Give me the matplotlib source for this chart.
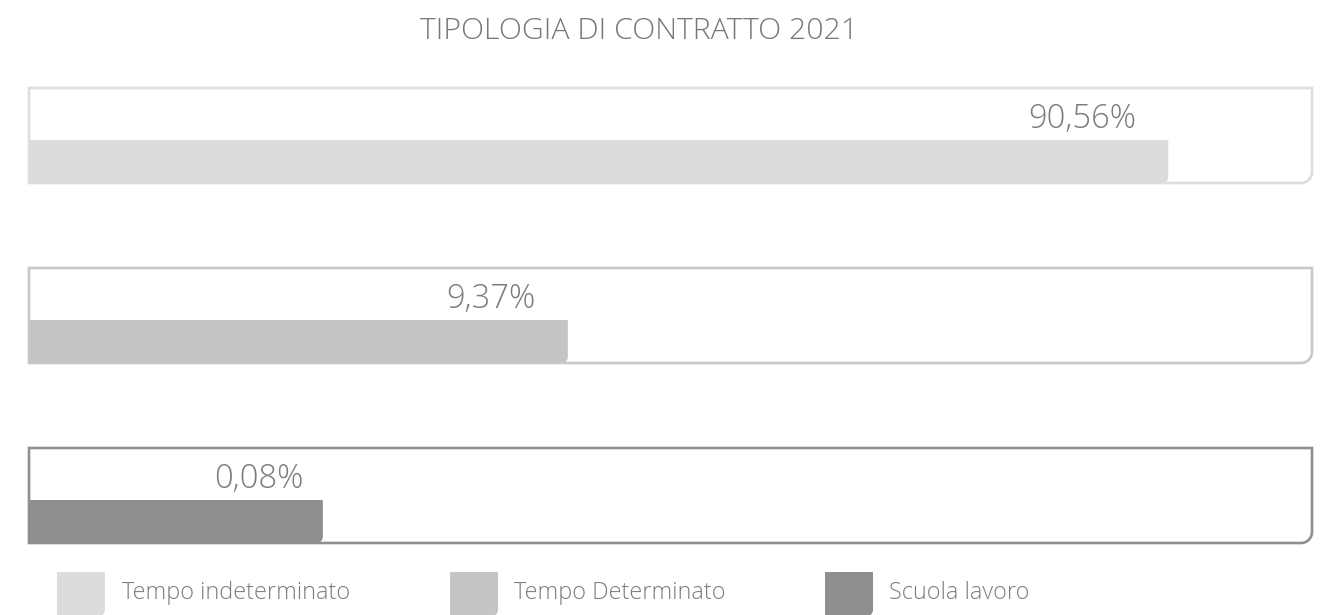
import matplotlib
matplotlib.use("Agg")
import matplotlib.pyplot as plt
from matplotlib.path import Path
from matplotlib.patches import PathPatch
from matplotlib.transforms import IdentityTransform

# ---- data ----
title = "TIPOLOGIA DI CONTRATTO 2021"
categories = ["Tempo indeterminato", "Tempo Determinato", "Scuola lavoro"]
value_labels = ["90,56%", "9,37%", "0,08%"]
bar_lengths = [88.8, 42.0, 22.9]   # displayed bar length, box width = 100
bar_colors = ["#dcdcdb", "#c4c5c4", "#8e8f91"]
box_colors = ["#dedede", "#c8c8c8", "#8e8f91"]
text_color = "#7b7c7e"

W, H, DPI = 1329, 615, 100
fig = plt.figure(figsize=(W / DPI, H / DPI), dpi=DPI)
fig.patch.set_facecolor("white")

FONT = ["Open Sans", "DejaVu Sans"]

# axes spanning the boxes region (pixel rect: x 29..1312, y 88..543 from top)
left, right, top, bottom = 29, 1312, 88, 543
ax = fig.add_axes([left / W, 1 - bottom / H, (right - left) / W, (bottom - top) / H])
ax.set_xlim(0, 100)
row_pitch = 180.0
half_box = 47.5 / row_pitch
ax.set_ylim(len(categories) - 1 + half_box, -half_box)
ax.axis("off")
ax.set_zorder(5)


def br_rounded_path(x0, y0, x1, y1, r):
    """Rectangle in display coords (y up) with a rounded bottom-right corner."""
    k = 0.5523 * r
    verts = [(x0, y0), (x1 - r, y0),
             (x1 - r + k, y0), (x1, y0 + r - k), (x1, y0 + r),
             (x1, y1), (x0, y1), (x0, y0)]
    codes = [Path.MOVETO, Path.LINETO,
             Path.CURVE4, Path.CURVE4, Path.CURVE4,
             Path.LINETO, Path.LINETO, Path.CLOSEPOLY]
    return Path(verts, codes)


fig.canvas.draw()
T = ax.transData
bar_top_off = 4.5 / row_pitch
label_dx = [-32, -32, -19]
for i, (lab, blen, bc, oc) in enumerate(zip(value_labels, bar_lengths, bar_colors, box_colors)):
    # box outline
    (bx0, by_top), = T.transform([(0, i - half_box)])
    (bx1, by_bot), = T.transform([(100, i + half_box)])
    box = PathPatch(br_rounded_path(bx0, by_bot, bx1, by_top, 11), transform=IdentityTransform(),
                    facecolor="white", edgecolor=oc, lw=1.9, zorder=1)
    fig.add_artist(box)
    # bar
    (rx0, ry_top), = T.transform([(0, i + bar_top_off)])
    (rx1, ry_bot), = T.transform([(blen, i + half_box)])
    bar = PathPatch(br_rounded_path(rx0, ry_bot, rx1, ry_top, 6), transform=IdentityTransform(),
                    facecolor=bc, edgecolor="none", zorder=2)
    fig.add_artist(bar)
    # value label
    ax.annotate(lab, xy=(blen, i), xytext=(label_dx[i], 16.0), textcoords="offset pixels",
                ha="right", va="center", fontsize=23.5, color=text_color,
                family=FONT, fontweight="light", zorder=3, annotation_clip=False)

# title
fig.text(639 / W, 1 - 31 / H, title, ha="center", va="center", fontsize=21.8,
         color="#75787b", family=FONT, fontweight="light")

# legend
leg_sq_x = [57, 450, 825]
leg_txt_x = [122, 514, 889]
sq_w, sq_top, sq_bot = 48, 572, 616
for sx, tx, c, name in zip(leg_sq_x, leg_txt_x, bar_colors, categories):
    p = br_rounded_path(sx, H - sq_bot, sx + sq_w, H - sq_top, 6)
    fig.add_artist(PathPatch(p, transform=IdentityTransform(), facecolor=c, edgecolor="none"))
    fig.text(tx / W, 1 - 593 / H, name, ha="left", va="center", fontsize=16.8,
             color="#7b7c7e", family=FONT, fontweight="light")

fig.savefig("out.png", dpi=DPI)
